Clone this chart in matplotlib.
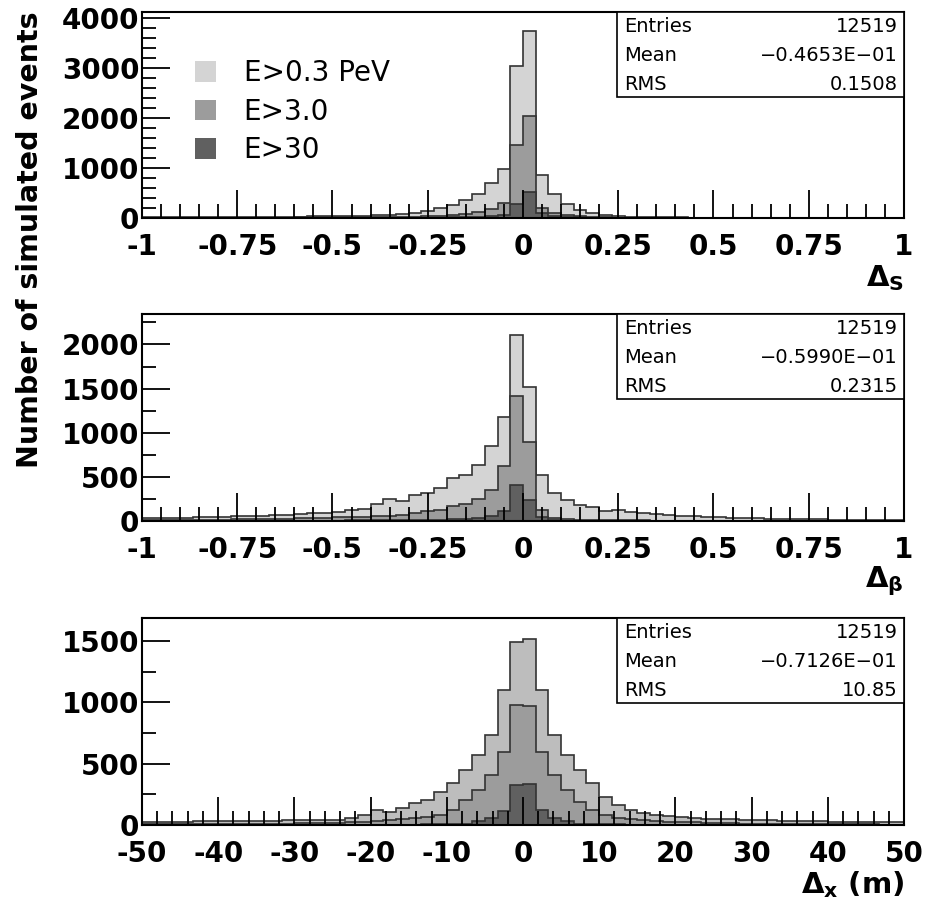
import numpy as np
import matplotlib
matplotlib.use('Agg')
import matplotlib.pyplot as plt
from matplotlib.patches import Patch, Rectangle
from matplotlib.ticker import MultipleLocator

# energy cuts and stats box contents
labels = ['E>0.3 PeV', 'E>3.0', 'E>30']
entries = '12519'
means = ['\u22120.4653E\u221201', '\u22120.5990E\u221201', '\u22120.7126E\u221201']
rms = ['0.1508', '0.2315', '10.85']
xlabels = [r'$\mathbf{\Delta_{S}}$', r'$\mathbf{\Delta_{\beta}}$', r'$\mathbf{\Delta_{x}}$ (m)']

# 60 bins per histogram
ds_low = [10, 10, 12, 12, 14, 15, 16, 18, 20, 22,
          24, 26, 28, 30, 33, 36, 40, 48, 55, 65,
          85, 105, 140, 190, 260, 360, 470, 700, 980, 3030,
          3740, 850, 470, 270, 155, 90, 50, 30, 25, 20,
          15, 12, 10, 8, 7, 6, 5, 5, 4, 4,
          3, 3, 3, 2, 2, 2, 2, 1, 1, 1]
ds_mid = [3, 3, 4, 4, 5, 5, 6, 6, 7, 8,
          8, 9, 10, 11, 12, 13, 14, 15, 17, 18,
          20, 25, 35, 45, 60, 80, 110, 180, 300, 1450,
          2030, 200, 90, 50, 30, 20, 12, 8, 6, 5,
          4, 3, 3, 2, 2, 2, 1, 1, 1, 1,
          1, 1, 1, 0, 0, 0, 0, 0, 0, 0]
ds_high = [0, 0, 0, 0, 0, 0, 0, 0, 1, 1,
           1, 1, 1, 1, 2, 2, 2, 2, 3, 3,
           4, 5, 6, 8, 10, 14, 20, 30, 60, 280,
           525, 100, 40, 20, 10, 6, 4, 2, 1, 1,
           1, 1, 0, 0, 0, 0, 0, 0, 0, 0,
           0, 0, 0, 0, 0, 0, 0, 0, 0, 0]

db_low = [30, 32, 35, 38, 40, 45, 48, 52, 56, 60,
          65, 70, 78, 85, 95, 102, 121, 140, 190, 246,
          227, 300, 318, 379, 489, 519, 640, 852, 1175, 2110,
          1522, 519, 318, 235, 178, 159, 110, 121, 100, 90,
          80, 70, 60, 55, 48, 42, 38, 33, 30, 27,
          24, 21, 19, 17, 15, 13, 12, 10, 9, 8]
db_mid = [8, 9, 10, 11, 12, 13, 15, 17, 19, 21,
          24, 27, 30, 34, 38, 42, 46, 50, 53, 60,
          72, 91, 110, 121, 167, 197, 250, 349, 625, 1420,
          890, 121, 30, 20, 15, 12, 10, 8, 7, 6,
          5, 5, 4, 4, 3, 3, 3, 2, 2, 2,
          2, 1, 1, 1, 1, 1, 1, 1, 0, 0]
db_high = [1, 1, 1, 1, 1, 2, 2, 2, 2, 3,
           3, 3, 4, 4, 5, 5, 6, 6, 7, 8,
           9, 10, 12, 14, 18, 25, 35, 60, 110, 405,
           243, 40, 10, 5, 3, 2, 2, 1, 1, 1,
           1, 1, 0, 0, 0, 0, 0, 0, 0, 0,
           0, 0, 0, 0, 0, 0, 0, 0, 0, 0]

dx_low = [25, 26, 27, 28, 30, 31, 32, 33, 34, 35,
          36, 37, 38, 39, 40, 41, 54, 82, 122, 109,
          136, 177, 204, 272, 340, 449, 571, 734, 1102, 1491,
          1515, 1100, 734, 571, 449, 340, 231, 163, 122, 100,
          85, 75, 65, 58, 52, 48, 45, 42, 40, 38,
          35, 33, 31, 30, 28, 27, 26, 25, 24, 23]
dx_mid = [5, 5, 6, 6, 7, 8, 8, 9, 10, 11,
          11, 12, 13, 14, 15, 18, 22, 28, 34, 40,
          47, 55, 65, 82, 122, 204, 286, 408, 593, 979,
          966, 598, 408, 286, 190, 122, 82, 54, 45, 38,
          32, 28, 24, 21, 18, 16, 14, 12, 11, 10,
          9, 8, 7, 7, 6, 6, 5, 5, 4, 4]
dx_high = [1, 1, 1, 1, 1, 1, 1, 1, 1, 1,
           1, 1, 2, 2, 2, 2, 2, 3, 3, 3,
           4, 4, 5, 6, 8, 12, 30, 54, 114, 326,
           335, 122, 54, 30, 12, 8, 6, 5, 4, 3,
           3, 3, 2, 2, 2, 2, 2, 1, 1, 1,
           1, 1, 1, 1, 1, 1, 1, 1, 1, 1]

panels = [
    dict(data=[ds_low, ds_mid, ds_high], xr=(-1, 1), ymax=4114, ymaj=1000, ymin=200,
         xmaj=0.25, xmin=0.05, cols=['#d4d4d4', '#9c9c9c', '#606060']),
    dict(data=[db_low, db_mid, db_high], xr=(-1, 1), ymax=2345, ymaj=500, ymin=250,
         xmaj=0.25, xmin=0.05, cols=['#d4d4d4', '#9c9c9c', '#606060']),
    dict(data=[dx_low, dx_mid, dx_high], xr=(-50, 50), ymax=1686, ymaj=500, ymin=250,
         xmaj=10, xmin=2, cols=['#bdbdbd', '#9c9c9c', '#606060']),
]

W, H = 928, 906
fig = plt.figure(figsize=(W / 100, H / 100), dpi=100)
boxes = [(12, 218), (314, 521), (618, 825)]
font = 'DejaVu Sans'

for i, p in enumerate(panels):
    top, bot = boxes[i]
    ax = fig.add_axes([142 / W, (H - bot) / H, 762 / W, (bot - top) / H])
    edges = np.linspace(p['xr'][0], p['xr'][1], len(p['data'][0]) + 1)
    for vals, c in zip(p['data'], p['cols']):
        ax.stairs(vals, edges, fill=True, facecolor=c, edgecolor='#333333', lw=1.2)
    ax.set_xlim(*p['xr'])
    ax.set_ylim(0, p['ymax'])
    ax.xaxis.set_major_locator(MultipleLocator(p['xmaj']))
    ax.xaxis.set_minor_locator(MultipleLocator(p['xmin']))
    ax.yaxis.set_major_locator(MultipleLocator(p['ymaj']))
    ax.yaxis.set_minor_locator(MultipleLocator(p['ymin']))
    ax.tick_params(which='both', direction='in', top=False, right=False, width=1.3, color='black')
    ax.tick_params(which='major', length=20)
    ax.tick_params(which='minor', length=10)
    ax.tick_params(axis='x', pad=10.5)
    ax.tick_params(axis='y', pad=2)
    for s in ax.spines.values():
        s.set_linewidth(1.5)
    if p['xmaj'] == 0.25:
        ax.set_xticks(np.arange(-1, 1.01, 0.25))
        ax.set_xticklabels(['-1', '-0.75', '-0.5', '-0.25', '0', '0.25', '0.5', '0.75', '1'])
    else:
        ax.set_xticklabels([str(int(v)) for v in ax.get_xticks()])
    ax.set_yticklabels([str(int(v)) for v in ax.get_yticks()])
    for lab in ax.get_xticklabels() + ax.get_yticklabels():
        lab.set_family(font)
        lab.set_fontweight('bold')
        lab.set_fontsize(20)

    # stats box
    ax.add_patch(Rectangle((0.623, 0.587), 0.377, 0.413, transform=ax.transAxes,
                           facecolor='white', edgecolor='black', lw=1.2, zorder=5))
    rows = [('Entries', entries), ('Mean', means[i]), ('RMS', rms[i])]
    for j, (k, v) in enumerate(rows):
        y = 0.932 - j * 0.141
        ax.text(0.633, y, k, transform=ax.transAxes, fontsize=14, va='center', ha='left',
                family=font, zorder=6)
        ax.text(0.992, y, v, transform=ax.transAxes, fontsize=14, va='center', ha='right',
                family=font, zorder=6)

    ax.text(1.0, -0.29, xlabels[i], transform=ax.transAxes, ha='right', va='center',
            fontsize=21, fontweight='bold', family=font)

    if i == 0:
        handles = [Patch(facecolor=c, edgecolor='none') for c in p['cols']]
        ax.legend(handles, labels, loc='upper left', bbox_to_anchor=(0.055, 0.825),
                  frameon=False, handlelength=0.75, handleheight=0.75,
                  handletextpad=1.0, labelspacing=0.38, borderaxespad=0,
                  prop={'family': font, 'size': 20})

fig.text(30 / W, (H - 240) / H, 'Number of simulated events', rotation=90,
         ha='center', va='center', fontsize=20.5, fontweight='bold', family=font)

fig.savefig('out.png', dpi=100)
